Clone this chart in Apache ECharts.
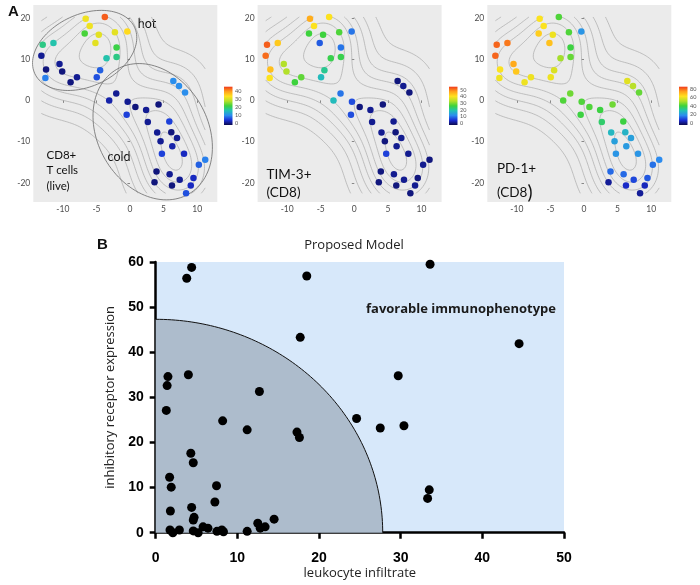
<!DOCTYPE html>
<html><head><meta charset="utf-8">
<script src="https://cdn.jsdelivr.net/npm/echarts@6/dist/echarts.min.js"></script>
<style>html,body{margin:0;padding:0;background:#fff}#c{width:700px;height:585px}</style>
</head><body><div id="c"></div>
<script>
// ---------- Panel A : t-SNE embedding (same positions in the three maps) ----------
const tsneX = [-6.6,-3.75,-6,-6.75,-4.65,-5.15,-2.25,-0.4,-13,-11.4,
  -13.2,-2,-3.5,-2,-10.5,-12.5,-10.1,-12.6,-7.9,-8.85,
  -4.95,-4.45,-2.05,-3.1,-0.35,-0.5,0.8,2.4,4.25,2.65,
  5.85,6.45,7.3,8.2,4.05,6.15,7,4.55,6.3,4.75,
  8.05,11.2,10.25,3.95,5.9,3.65,6.25,7.4,9.45,9.05,8.35];
const tsneY = [19.8,20.2,18,16.2,15.9,13.9,16.5,16.7,13.5,13.9,
  10.8,12.8,10.2,10.5,8.8,7.5,7.0,5.4,5.6,4.4,
  5.6,7.3,1.7,0,-0.3,-3.5,-1.6,-2.3,-1.0,-5.2,
  -5.1,4.7,3.5,1.9,-7.8,-7.7,-9.1,-9.9,-11.1,-12.9,
  -12.9,-14.4,-15.6,-17.2,-17.9,-19.8,-20.6,-19.2,-18.8,-20.6,-22.5];
const cd8Live = [32,43,32,22,31,31,31,34,18,16, 1,21,16,18,1,0,0,9,1,0,
  6,7,1,2,1,5,0,1,0,1, 5,10,10,10,1,0,1,1,2,5, 3,9,7,0,1,0,0,1,3,3,6];
const tim3 = [46,40,40,26,26,8,27,10,52,43, 51,10,25,25,33,44,33,40,28,26,
  18,21,10,18,7,7,0,1,0,1, 1,0,1,0,1,0,1,0,1,6, 1,0,1,0,1,0,0,1,0,1,0];
const pd1 = [62,42,62,66,60,68,42,20,80,78, 80,40,50,44,72,62,67,60,60,60,
  60,57,45,42,42,40,42,40,45,36, 40,58,52,44,27,26,22,22,21,20, 20,18,15,14,14,2,6,10,12,5,2];
const tsneTicksX = [-10,-5,0,5,10];
const tsneTicksY = [-20,-10,0,10,20];
const cbTicks = [[0,10,20,30,40],[0,10,20,30,40,50],[0,20,40,60,80]];
const cbRange = [[-2,45],[-2.5,54.5],[-4,84.7]];
const panelTitles = ['CD8+\nT cells\n(live)','TIM-3+\n(CD8)','PD-1+'];

// ---------- Panel B : proposed model ----------
const leukocyte = [4.4,3.8,18.5,33.6,17.7,44.5,1.5,1.4,4.0,29.7,
  12.7,1.3,8.2,11.2,17.3,17.6,24.6,27.5,30.4,4.3,
  4.6,1.7,1.9,7.45,7.25,1.8,4.4,4.7,4.6,14.5,
  12.5,13.4,12.8,33.5,33.3,1.75,2.1,2.9,4.6,5.2,
  5.8,6.4,7.5,8.1,8.3,11.2];
const inhibitory = [58.8,56.4,56.9,59.5,43.3,41.9,34.6,32.6,35.0,34.8,
  31.3,27.1,24.8,22.8,22.3,21.1,25.3,23.2,23.7,17.6,
  15.5,12.3,10.1,10.4,6.8,4.8,5.6,3.4,2.8,3.0,
  2.1,1.3,1.0,9.5,7.6,0.6,0.0,0.6,0.4,0.0,
  1.3,1.0,0.3,0.6,0.2,0.3];
const modelBoundary = [27.8, 47.3]; // semi-axes (leukocyte, inhibitory) of the unfavorable region
const bTicksX = [0,10,20,30,40,50];
const bTicksY = [0,10,20,30,40,50,60];

// ---------- helpers : 2D kernel density (MASS::kde2d) + contours ----------
function quantile7(v,p){const s=[...v].sort((a,b)=>a-b);const h=(s.length-1)*p;const lo=Math.floor(h);const hi=Math.min(lo+1,s.length-1);return s[lo]+(h-lo)*(s[hi]-s[lo]);}
function sd(v){const m=v.reduce((a,b)=>a+b,0)/v.length;return Math.sqrt(v.reduce((a,b)=>a+(b-m)*(b-m),0)/(v.length-1));}
function bwNrd(v){const r=(quantile7(v,.75)-quantile7(v,.25))/1.34;return 4*1.06*Math.min(sd(v),r)*Math.pow(v.length,-0.2);}
function dnorm(x){return Math.exp(-0.5*x*x)/Math.sqrt(2*Math.PI);}
function pretty(lo,hi,n){const cell=(hi-lo)/n;const U=Math.pow(10,Math.floor(Math.log10(cell)));let unit=U;const h=1.5,h5=.5+1.5*h;
  if(2*U-cell<h*(cell-unit)){unit=2*U;if(5*U-cell<h5*(cell-unit)){unit=5*U;if(10*U-cell<h*(cell-unit))unit=10*U;}}
  const ns=Math.floor(lo/unit+1e-7),nu=Math.ceil(hi/unit-1e-7);const out=[];for(let k=ns;k<=nu;k++)out.push(k*unit);return out;}
function densityContours(xs,ys){
  const n=100;const hx=bwNrd(xs)/4,hy=bwNrd(ys)/4;
  const x0=Math.min(...xs),x1=Math.max(...xs),y0=Math.min(...ys),y1=Math.max(...ys);
  const gx=[],gy=[];for(let i=0;i<n;i++){gx.push(x0+(x1-x0)*i/(n-1));gy.push(y0+(y1-y0)*i/(n-1));}
  const N=xs.length;
  const ax=gx.map(g=>xs.map(x=>dnorm((g-x)/hx)));
  const ay=gy.map(g=>ys.map(y=>dnorm((g-y)/hy)));
  const z=[];let zmin=Infinity,zmax=-Infinity;
  for(let i=0;i<n;i++){z.push([]);for(let j=0;j<n;j++){let s=0;for(let k=0;k<N;k++)s+=ax[i][k]*ay[j][k];s/=(N*hx*hy);z[i].push(s);if(s<zmin)zmin=s;if(s>zmax)zmax=s;}}
  const levels=pretty(zmin,zmax,10).filter(l=>l>zmin&&l<zmax);
  const segs=[];
  const table={1:[[3,0]],2:[[0,1]],3:[[3,1]],4:[[1,2]],5:[[3,0],[1,2]],6:[[0,2]],7:[[3,2]],8:[[2,3]],9:[[0,2]],10:[[0,1],[2,3]],11:[[1,2]],12:[[1,3]],13:[[0,1]],14:[[0,3]]};
  levels.forEach(L=>{
    for(let i=0;i<n-1;i++)for(let j=0;j<n-1;j++){
      const v0=z[i][j],v1=z[i+1][j],v2=z[i+1][j+1],v3=z[i][j+1];
      const idx=(v0>L?1:0)|(v1>L?2:0)|(v2>L?4:0)|(v3>L?8:0);
      if(idx===0||idx===15)continue;
      const ep=e=>{let t;switch(e){
        case 0:t=(L-v0)/(v1-v0);return [gx[i]+t*(gx[i+1]-gx[i]),gy[j]];
        case 1:t=(L-v1)/(v2-v1);return [gx[i+1],gy[j]+t*(gy[j+1]-gy[j])];
        case 2:t=(L-v2)/(v3-v2);return [gx[i+1]+t*(gx[i]-gx[i+1]),gy[j+1]];
        default:t=(L-v3)/(v0-v3);return [gx[i],gy[j+1]+t*(gy[j]-gy[j+1])];}};
      table[idx].forEach(([a,b])=>{const p=ep(a),q=ep(b);segs.push([p[0],p[1],q[0],q[1]]);});
    }
  });
  return segs;
}

// ---------- chart ----------
const rainbow=['#0c0a4e','#1a2ed4','#2b8cef','#22c2b4','#3dd23d','#b5e02a','#ffe21e','#ffa01b','#f03a1c'];
const tsneLeft=[33.3,257.6,487.3];
const cbLeft=[224,449,679];
const values=[cd8Live,tim3,pd1];
const grids=[],xAxes=[],yAxes=[],series=[],visualMaps=[];
const contourSegs=densityContours(tsneX,tsneY);
const smallLbl={fontSize:8.5,color:'#4d4d4d',fontFamily:'Lato'};

for(let p=0;p<3;p++){
  grids.push({left:tsneLeft[p],top:5,width:184,height:197,show:true,backgroundColor:'#ebebeb',borderWidth:0});
  xAxes.push({gridIndex:p,type:'value',min:-14.4,max:13,axisLine:{show:false},splitLine:{show:false},
    axisTick:{show:true,length:2.5,customValues:tsneTicksX,lineStyle:{color:'#444',width:0.6}},
    axisLabel:Object.assign({customValues:tsneTicksX,margin:3},smallLbl)});
  yAxes.push({gridIndex:p,type:'value',min:-24.6,max:23.1,axisLine:{show:false},splitLine:{show:false},
    axisTick:{show:true,length:2.5,customValues:tsneTicksY,lineStyle:{color:'#444',width:0.6}},
    axisLabel:Object.assign({customValues:tsneTicksY,margin:3},smallLbl)});
}
for(let p=0;p<3;p++){
  grids.push({left:cbLeft[p],top:86.7,width:8.5,height:38.3});
  xAxes.push({gridIndex:3+p,type:'value',min:0,max:1,show:false});
  yAxes.push({gridIndex:3+p,type:'value',min:cbRange[p][0],max:cbRange[p][1],position:'right',
    axisLine:{show:false},axisTick:{show:false},splitLine:{show:false},
    axisLabel:{customValues:cbTicks[p],fontSize:5.5,color:'#555',margin:2.5,fontFamily:'Lato'}});
}
// panel B grid (index 6)
grids.push({left:155.7,top:262,width:408.3,height:270.7,show:true,backgroundColor:'#d7e8fa',borderWidth:0});
const bLbl={fontSize:14,fontWeight:'bold',color:'#000',fontFamily:'Liberation Sans'};
xAxes.push({gridIndex:6,type:'value',min:0,max:50,interval:10,
  axisLine:{lineStyle:{color:'#000',width:2.5}},axisTick:{length:6,lineStyle:{color:'#000',width:2.5}},
  axisLabel:Object.assign({margin:18},bLbl),splitLine:{show:false},
  name:'leukocyte infiltrate',nameLocation:'middle',nameGap:34,
  nameTextStyle:{fontSize:13,color:'#222',fontFamily:'Open Sans'}});
yAxes.push({gridIndex:6,type:'value',min:0,max:60,interval:10,
  axisLine:{lineStyle:{color:'#000',width:2.5}},axisTick:{length:6,lineStyle:{color:'#000',width:2.5}},
  axisLabel:Object.assign({margin:12},bLbl),splitLine:{show:false},
  name:'inhibitory receptor expression',nameLocation:'middle',nameGap:38,
  nameTextStyle:{fontSize:13,color:'#222',fontFamily:'Open Sans'}});

// contours
for(let p=0;p<3;p++){
  series.push({type:'custom',xAxisIndex:p,yAxisIndex:p,data:contourSegs,clip:true,silent:true,progressive:0,
    encode:{x:[0,2],y:[1,3]},
    renderItem:(params,api)=>{const a=api.coord([api.value(0),api.value(1)]),b=api.coord([api.value(2),api.value(3)]);
      return {type:'line',shape:{x1:a[0],y1:a[1],x2:b[0],y2:b[1]},style:{stroke:'#a9a9a9',lineWidth:0.7}};}});
}
// hand-drawn hot / cold ellipses on the first map
series.push({type:'custom',xAxisIndex:0,yAxisIndex:0,silent:true,clip:false,
  data:[[-6.75,12.1,55,36,-25],[3.38,-7.58,72,55,60]],
  renderItem:(params,api)=>{const c=api.coord([api.value(0),api.value(1)]);const A=api.value(2),B=api.value(3),phi=api.value(4)*Math.PI/180;
    const pts=[];for(let k=0;k<=120;k++){const t=k/120*2*Math.PI;const ex=A*Math.cos(t),ey=B*Math.sin(t);
      pts.push([c[0]+ex*Math.cos(phi)-ey*Math.sin(phi),c[1]+ex*Math.sin(phi)+ey*Math.cos(phi)]);}
    return {type:'polyline',shape:{points:pts},style:{stroke:'#6a6a6a',lineWidth:0.8,fill:null}};}});
// points
const scatterIdx=[];
for(let p=0;p<3;p++){
  scatterIdx.push(series.length);
  series.push({type:'scatter',xAxisIndex:p,yAxisIndex:p,symbolSize:6.5,
    data:tsneX.map((x,i)=>[x,tsneY[i],values[p][i]]),itemStyle:{opacity:1}});
  visualMaps.push({show:false,type:'continuous',seriesIndex:series.length-1,dimension:2,
    min:cbRange[p][0],max:cbRange[p][1],inRange:{color:rainbow}});
}
// colour bars
for(let p=0;p<3;p++){
  series.push({type:'custom',xAxisIndex:3+p,yAxisIndex:3+p,silent:true,data:[[0,cbRange[p][0],1,cbRange[p][1]]],
    renderItem:(params,api)=>{const a=api.coord([api.value(0),api.value(1)]),b=api.coord([api.value(2),api.value(3)]);
      return {type:'rect',shape:{x:a[0],y:b[1],width:b[0]-a[0],height:a[1]-b[1]},
        style:{fill:new echarts.graphic.LinearGradient(0,1,0,0,rainbow.map((c,k)=>({offset:k/(rainbow.length-1),color:c})))}};}});
}
// panel B: unfavorable region (quarter ellipse)
series.push({type:'custom',xAxisIndex:6,yAxisIndex:6,silent:true,clip:false,data:[modelBoundary],
  renderItem:(params,api)=>{const a=api.value(0),b=api.value(1);const arc=[];
    for(let k=0;k<=90;k++){const t=k/90*Math.PI/2;arc.push(api.coord([a*Math.cos(t),b*Math.sin(t)]));}
    const poly=[api.coord([0,0])].concat(arc);
    return {type:'group',children:[{type:'polygon',shape:{points:poly},style:{fill:'#adbccc'}},
      {type:'polyline',shape:{points:arc},style:{stroke:'#111',lineWidth:1,fill:null}}]};}});
series.push({type:'scatter',xAxisIndex:6,yAxisIndex:6,symbolSize:9,itemStyle:{color:'#000',opacity:1},
  data:leukocyte.map((x,i)=>[x,inhibitory[i]])});

const txt=(x,y,text,font,align,va,extra)=>Object.assign({type:'text',x:x,y:y,silent:true,
  style:Object.assign({text:text,font:font,fill:'#111',textAlign:align,textVerticalAlign:va,align:align,verticalAlign:va},extra||{})});
const graphics=[
  txt(8,4,'A','bold 15px "Liberation Sans"','left','top'),
  txt(97,237,'B','bold 15px "Liberation Sans"','left','top'),
  txt(147,24,'hot','12.5px Lato','center','middle'),
  txt(119,157,'cold','12.5px Lato','center','middle'),
  txt(46.5,147.3,panelTitles[0],'11.5px Lato','left','top',{lineHeight:15.5}),
  txt(266.5,166.2,panelTitles[1],'13.5px Lato','left','top',{lineHeight:17.7}),
  txt(497,168.3,panelTitles[2],'13.5px Lato','left','middle'),
  {type:'text',x:497,y:192.7,silent:true,style:{text:'(CD8{b|)}',font:'13.5px Lato',fill:'#111',textVerticalAlign:'middle',verticalAlign:'middle',
    rich:{b:{fontSize:19,fontFamily:'Lato',fill:'#111'}}}},
  txt(354,245,'Proposed Model','13px "Open Sans"','center','middle',{fill:'#222'}),
  txt(461,309,'favorable immunophenotype','bold 13px "Open Sans"','center','middle',{fill:'#1a1a1a'}),
  txt(312.5,481,'unfavorable','bold 13px "Open Sans"','center','middle',{fill:'#1a1a1a'})
];

const chart=echarts.init(document.getElementById('c'));
chart.setOption({animation:false,grid:grids,xAxis:xAxes,yAxis:yAxes,visualMap:visualMaps,series:series,graphic:{elements:graphics}});
</script></body></html>
